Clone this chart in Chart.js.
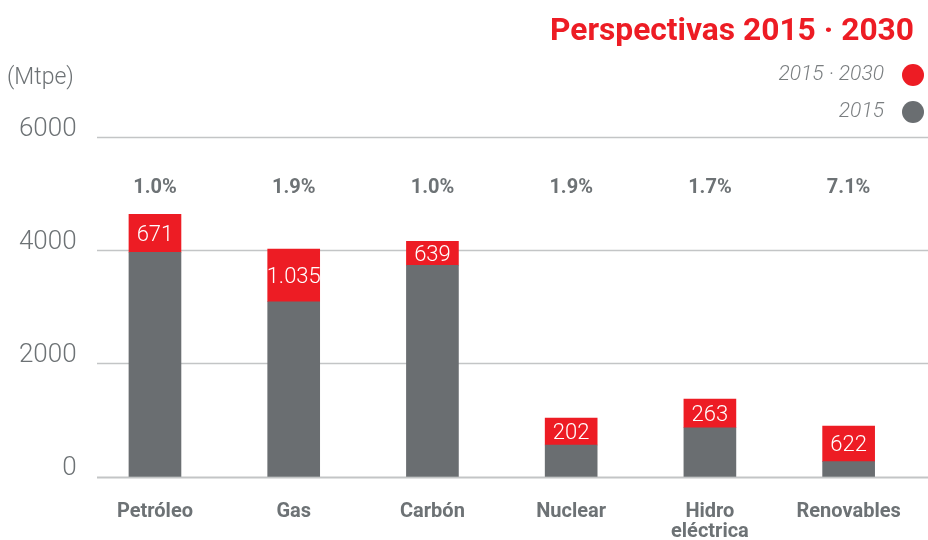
<!DOCTYPE html>
<html>
<head>
<meta charset="utf-8">
<script src="https://cdn.jsdelivr.net/npm/chart.js@4"></script>
<style>
  html, body { margin: 0; padding: 0; background: #fff; }
  #wrap { width: 928px; height: 540px; position: relative; }
</style>
</head>
<body>
<div id="wrap"><canvas id="chart" width="928" height="540"></canvas></div>
<script>
// datos
const categorias = ['Petróleo', 'Gas', 'Carbón', 'Nuclear', ['Hidro', 'eléctrica'], 'Renovables'];
const valores2015 = [3965, 3090, 3735, 560, 865, 265];
const incremento2030 = [671, 930, 424, 477, 506, 629];   // altura dibujada del tramo rojo
const etiquetasIncremento = ['671', '1.035', '639', '202', '263', '622'];
const crecimiento = ['1.0%', '1.9%', '1.0%', '1.9%', '1.7%', '7.1%'];
const ticksY = [0, 2000, 4000, 6000];

const ROJO = '#ed1c24';
const GRIS = '#6a6e71';
const TEXTO = '#6d7275';
const FUENTE = 'Roboto, "Liberation Sans", sans-serif';

// lineas de rejilla mas anchas que el area del grafico
const rejilla = {
  id: 'rejilla',
  beforeDatasetsDraw(chart) {
    const ctx = chart.ctx;
    const y = chart.scales.y;
    ctx.save();
    ticksY.forEach(v => {
      const py = Math.round(y.getPixelForValue(v)) + 0.5;
      ctx.strokeStyle = '#c3c5c6';
      ctx.lineWidth = v === 0 ? 2 : 1.5;
      ctx.beginPath();
      ctx.moveTo(97, py);
      ctx.lineTo(928, py);
      ctx.stroke();
    });
    ctx.restore();
  }
};

const textos = {
  id: 'textos',
  afterDatasetsDraw(chart) {
    const ctx = chart.ctx;
    const x = chart.scales.x;
    const y = chart.scales.y;
    ctx.save();

    // valores dentro del tramo rojo
    const meta = chart.getDatasetMeta(1);
    ctx.font = '300 22px ' + FUENTE;
    ctx.fillStyle = '#ffffff';
    ctx.textAlign = 'center';
    ctx.textBaseline = 'middle';
    meta.data.forEach((bar, i) => {
      const cy = (bar.y + bar.base) / 2 + 2;
      ctx.fillText(etiquetasIncremento[i], bar.x, cy);
    });

    // porcentajes de crecimiento
    ctx.font = 'bold 20px ' + FUENTE;
    ctx.fillStyle = TEXTO;
    crecimiento.forEach((t, i) => {
      ctx.fillText(t, x.getPixelForValue(i), y.getPixelForValue(5100));
    });

    // unidad
    ctx.font = '300 23px ' + FUENTE;
    ctx.textAlign = 'left';
    ctx.fillText('(Mtpe)', 7, 78);

    // titulo
    ctx.font = 'bold 32px ' + FUENTE;
    ctx.fillStyle = ROJO;
    ctx.textAlign = 'right';
    ctx.textBaseline = 'alphabetic';
    ctx.fillText('Perspectivas 2015 · 2030', 914, 40, 364);

    // leyenda
    const leyenda = [['2015 · 2030', ROJO, 75], ['2015', GRIS, 112]];
    leyenda.forEach(([t, c, ly]) => {
      ctx.font = 'italic 300 21px ' + FUENTE;
      ctx.fillStyle = '#7a7e80';
      ctx.textAlign = 'right';
      ctx.textBaseline = 'middle';
      ctx.fillText(t, 884, ly);
      ctx.fillStyle = c;
      ctx.beginPath();
      ctx.arc(913, ly, 11, 0, Math.PI * 2);
      ctx.fill();
    });
    ctx.restore();
  }
};

new Chart(document.getElementById('chart'), {
  type: 'bar',
  data: {
    labels: categorias,
    datasets: [
      { label: '2015', data: valores2015, backgroundColor: GRIS, barThickness: 52 },
      { label: '2015 · 2030', data: incremento2030, backgroundColor: ROJO, barThickness: 52 }
    ]
  },
  options: {
    responsive: false,
    animation: false,
    layout: { padding: { top: 137, right: 10, left: 0, bottom: 0 } },
    plugins: { legend: { display: false }, tooltip: { enabled: false } },
    scales: {
      x: {
        stacked: true,
        grid: { display: false, drawTicks: false },
        border: { display: false },
        ticks: {
          color: TEXTO,
          font: { family: FUENTE, size: 20, weight: 'bold', lineHeight: 1.0 },
          padding: 25,
          maxRotation: 0,
          autoSkip: false
        },
        afterFit(s) { s.height = 63.3; }
      },
      y: {
        stacked: true,
        min: 0,
        max: 6000,
        grid: { display: false, drawTicks: false },
        border: { display: false },
        ticks: {
          stepSize: 2000,
          color: TEXTO,
          font: { family: FUENTE, size: 26, weight: 300 },
          padding: 9,
          labelOffset: -8,
          callback: v => String(v)
        },
        afterFit(s) { s.width = 85.6; }
      }
    }
  },
  plugins: [rejilla, textos]
});
</script>
</body>
</html>
